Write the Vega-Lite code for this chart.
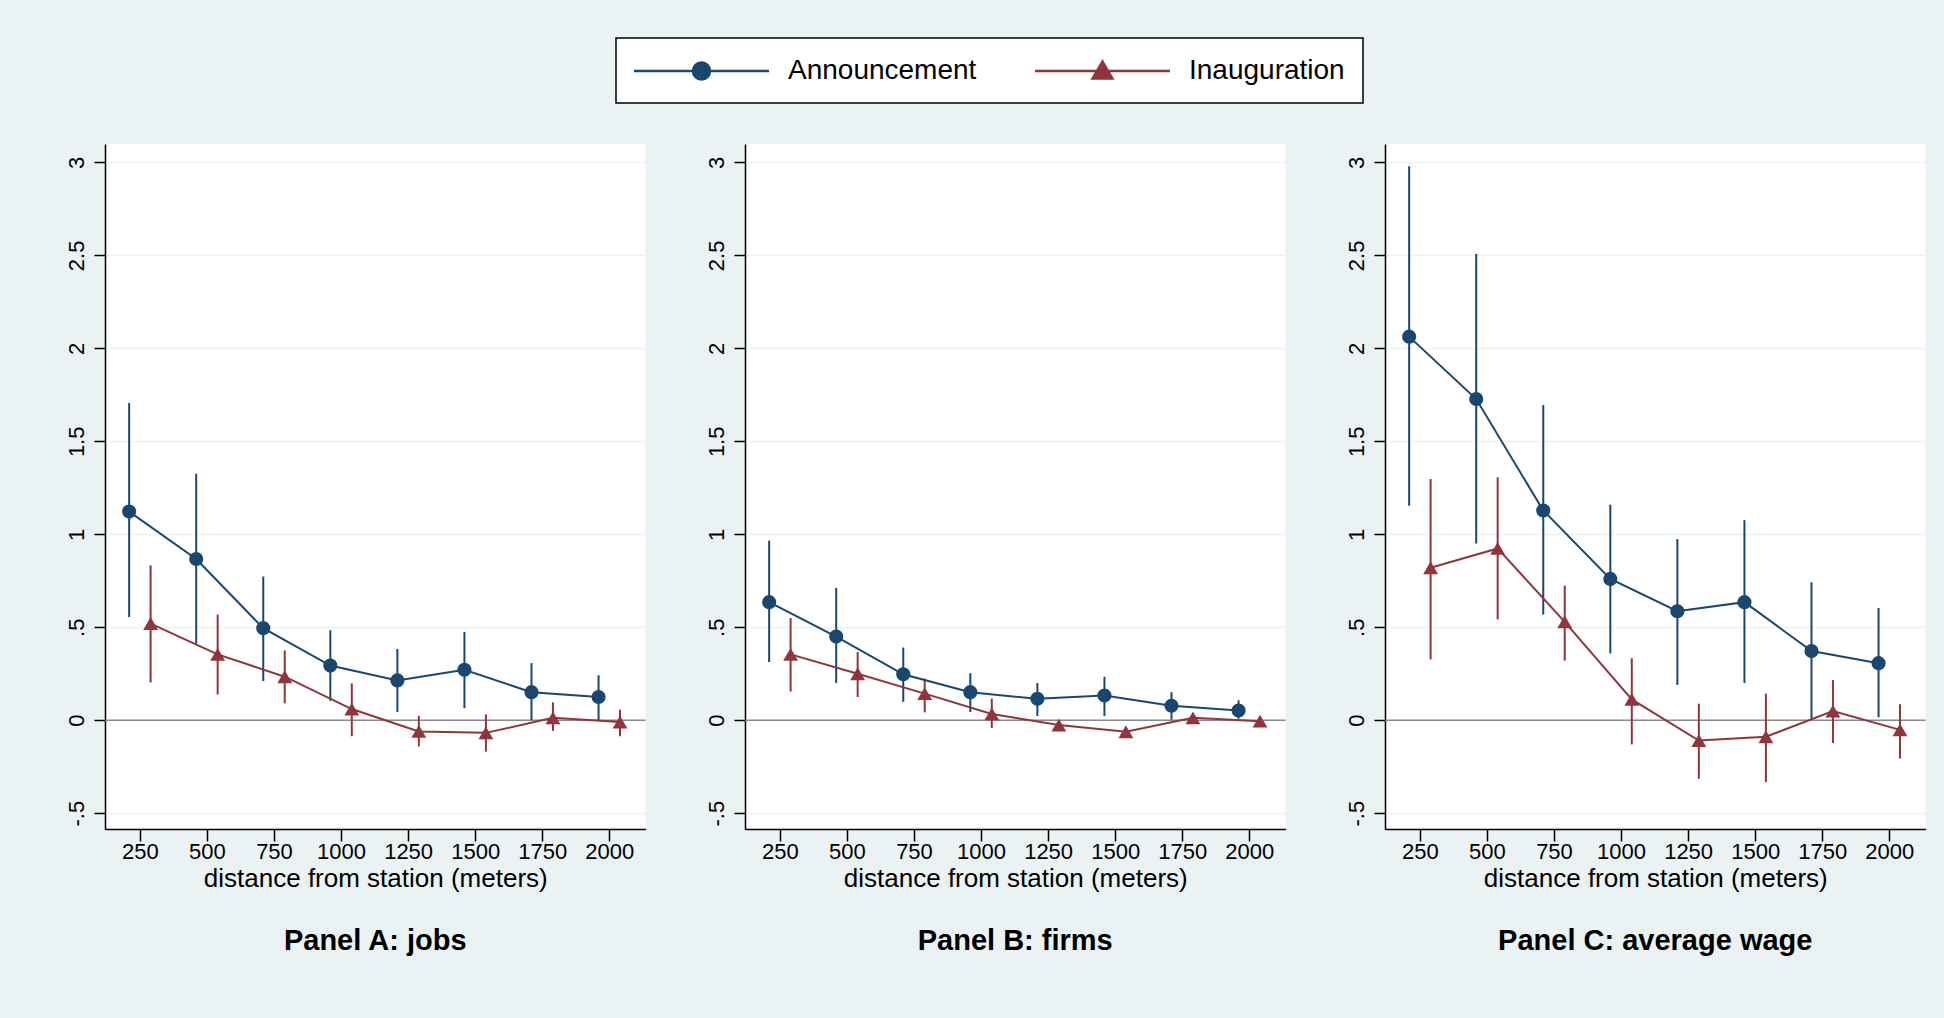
{
  "$schema": "https://vega.github.io/schema/vega-lite/v6.json",
  "background": "#EAF2F3",
  "padding": {"left": 65, "top": 37, "right": 19, "bottom": 62},
  "bounds": "flush",
  "spacing": 99,
  "datasets": {
    "zero": [{"y": 0}],
    "jobs": [
      {"series": "Announcement", "dist": 210, "est": 1.122, "lo": 0.555, "hi": 1.706},
      {"series": "Announcement", "dist": 460, "est": 0.867, "lo": 0.411, "hi": 1.326},
      {"series": "Announcement", "dist": 710, "est": 0.495, "lo": 0.211, "hi": 0.773},
      {"series": "Announcement", "dist": 960, "est": 0.294, "lo": 0.104, "hi": 0.484},
      {"series": "Announcement", "dist": 1210, "est": 0.214, "lo": 0.044, "hi": 0.383},
      {"series": "Announcement", "dist": 1460, "est": 0.271, "lo": 0.065, "hi": 0.474},
      {"series": "Announcement", "dist": 1710, "est": 0.151, "lo": 0.0, "hi": 0.307},
      {"series": "Announcement", "dist": 1960, "est": 0.125, "lo": 0.0, "hi": 0.242},
      {"series": "Inauguration", "dist": 290, "est": 0.52, "lo": 0.203, "hi": 0.833},
      {"series": "Inauguration", "dist": 540, "est": 0.354, "lo": 0.138, "hi": 0.568},
      {"series": "Inauguration", "dist": 790, "est": 0.234, "lo": 0.091, "hi": 0.375},
      {"series": "Inauguration", "dist": 1040, "est": 0.06, "lo": -0.086, "hi": 0.198},
      {"series": "Inauguration", "dist": 1290, "est": -0.06, "lo": -0.141, "hi": 0.023},
      {"series": "Inauguration", "dist": 1540, "est": -0.068, "lo": -0.169, "hi": 0.031},
      {"series": "Inauguration", "dist": 1790, "est": 0.013, "lo": -0.057, "hi": 0.096},
      {"series": "Inauguration", "dist": 2040, "est": -0.01, "lo": -0.086, "hi": 0.057}
    ],
    "firms": [
      {"series": "Announcement", "dist": 210, "est": 0.635, "lo": 0.313, "hi": 0.966},
      {"series": "Announcement", "dist": 460, "est": 0.45, "lo": 0.2, "hi": 0.711},
      {"series": "Announcement", "dist": 710, "est": 0.247, "lo": 0.099, "hi": 0.391},
      {"series": "Announcement", "dist": 960, "est": 0.151, "lo": 0.044, "hi": 0.253},
      {"series": "Announcement", "dist": 1210, "est": 0.115, "lo": 0.023, "hi": 0.2},
      {"series": "Announcement", "dist": 1460, "est": 0.133, "lo": 0.023, "hi": 0.234},
      {"series": "Announcement", "dist": 1710, "est": 0.078, "lo": 0.003, "hi": 0.151},
      {"series": "Announcement", "dist": 1960, "est": 0.052, "lo": 0.008, "hi": 0.107},
      {"series": "Inauguration", "dist": 290, "est": 0.354, "lo": 0.154, "hi": 0.55},
      {"series": "Inauguration", "dist": 540, "est": 0.25, "lo": 0.125, "hi": 0.367},
      {"series": "Inauguration", "dist": 790, "est": 0.143, "lo": 0.042, "hi": 0.224},
      {"series": "Inauguration", "dist": 1040, "est": 0.034, "lo": -0.042, "hi": 0.117},
      {"series": "Inauguration", "dist": 1290, "est": -0.026, "lo": -0.047, "hi": -0.005},
      {"series": "Inauguration", "dist": 1540, "est": -0.062, "lo": -0.094, "hi": -0.04},
      {"series": "Inauguration", "dist": 1790, "est": 0.013, "lo": -0.018, "hi": 0.039},
      {"series": "Inauguration", "dist": 2040, "est": -0.005, "lo": -0.026, "hi": 0.013}
    ],
    "wage": [
      {"series": "Announcement", "dist": 210, "est": 2.063, "lo": 1.154, "hi": 2.979},
      {"series": "Announcement", "dist": 460, "est": 1.727, "lo": 0.951, "hi": 2.508},
      {"series": "Announcement", "dist": 710, "est": 1.128, "lo": 0.568, "hi": 1.695},
      {"series": "Announcement", "dist": 960, "est": 0.76, "lo": 0.359, "hi": 1.159},
      {"series": "Announcement", "dist": 1210, "est": 0.586, "lo": 0.19, "hi": 0.974},
      {"series": "Announcement", "dist": 1460, "est": 0.635, "lo": 0.2, "hi": 1.076},
      {"series": "Announcement", "dist": 1710, "est": 0.372, "lo": 0.008, "hi": 0.742},
      {"series": "Announcement", "dist": 1960, "est": 0.307, "lo": 0.016, "hi": 0.604},
      {"series": "Inauguration", "dist": 290, "est": 0.82, "lo": 0.328, "hi": 1.297},
      {"series": "Inauguration", "dist": 540, "est": 0.924, "lo": 0.542, "hi": 1.307},
      {"series": "Inauguration", "dist": 790, "est": 0.529, "lo": 0.32, "hi": 0.724},
      {"series": "Inauguration", "dist": 1040, "est": 0.112, "lo": -0.13, "hi": 0.333},
      {"series": "Inauguration", "dist": 1290, "est": -0.109, "lo": -0.315, "hi": 0.089},
      {"series": "Inauguration", "dist": 1540, "est": -0.089, "lo": -0.333, "hi": 0.143},
      {"series": "Inauguration", "dist": 1790, "est": 0.049, "lo": -0.122, "hi": 0.216},
      {"series": "Inauguration", "dist": 2040, "est": -0.052, "lo": -0.206, "hi": 0.086}
    ]
  },
  "resolve": {"scale": {"color": "shared"}, "legend": {"color": "shared"}},
  "hconcat": [
    {
      "width": 540.5, "height": 685,
      "title": {"text": "Panel A: jobs", "orient": "bottom", "anchor": "middle", "fontSize": 29, "fontWeight": "bold", "color": "#000", "offset": 36},
      "data": {"name": "jobs"},
      "layer": [
        {"data": {"name": "zero"}, "mark": {"type": "rule", "color": "#8A8A8A", "strokeWidth": 1.5},
         "encoding": {"y": {"field": "y", "type": "quantitative", "scale": {"domain": [-0.585, 3.099], "nice": false, "zero": false}, "axis": {"values": [-0.5, 0, 0.5, 1, 1.5, 2, 2.5, 3], "labelExpr": "datum.value == 0.5 ? '.5' : datum.value == -0.5 ? '-.5' : format(datum.value, '~g')", "title": null}}}},
        {"mark": {"type": "rule", "strokeWidth": 2},
         "encoding": {"x": {"field": "dist", "type": "quantitative", "scale": {"domain": [120, 2135], "nice": false, "zero": false}, "axis": {"values": [250, 500, 750, 1000, 1250, 1500, 1750, 2000], "format": "d", "title": "distance from station (meters)"}},
                      "y": {"field": "lo", "type": "quantitative"}, "y2": {"field": "hi"},
                      "color": {"field": "series", "type": "nominal", "scale": {"domain": ["Announcement", "Inauguration"], "range": ["#1A476F", "#90353B"]}, "legend": {"title": null, "orient": "none", "legendX": 511, "legendY": -106, "direction": "horizontal", "encode": {"symbols": {"update": {"shape": {"signal": "datum.value === 'Announcement' ? 'M-1,0L1,0M-0.125,0A0.125,0.125,0,1,0,0.125,0A0.125,0.125,0,1,0,-0.125,0Z' : 'M-1,0L1,0M0,-0.14L0.145,0.11L-0.145,0.11Z'"}, "size": {"value": 18225}, "x": {"value": 67.5}, "y": {"value": 15}, "strokeWidth": {"value": 2.6}, "fill": {"scale": "color", "field": "value"}, "stroke": {"scale": "color", "field": "value"}, "opacity": {"value": 1}}}, "labels": {"update": {"y": {"value": 15}}}, "legend": {"update": {"strokeWidth": {"value": 1.5}}}}}}}},
        {"mark": {"type": "line", "strokeWidth": 2},
         "encoding": {"x": {"field": "dist", "type": "quantitative"}, "y": {"field": "est", "type": "quantitative"},
                      "color": {"field": "series", "type": "nominal"}}},
        {"transform": [{"filter": "datum.series == 'Announcement'"}],
         "mark": {"type": "point", "shape": "circle", "filled": true, "opacity": 1, "size": 200},
         "encoding": {"x": {"field": "dist", "type": "quantitative"}, "y": {"field": "est", "type": "quantitative"},
                      "color": {"field": "series", "type": "nominal"}}},
        {"transform": [{"filter": "datum.series == 'Inauguration'"}],
         "mark": {"type": "point", "shape": "triangle-up", "filled": true, "opacity": 1, "size": 220},
         "encoding": {"x": {"field": "dist", "type": "quantitative"}, "y": {"field": "est", "type": "quantitative"},
                      "color": {"field": "series", "type": "nominal"}}}
      ]
    },
    {
      "width": 540.5, "height": 685,
      "title": {"text": "Panel B: firms", "orient": "bottom", "anchor": "middle", "fontSize": 29, "fontWeight": "bold", "color": "#000", "offset": 36},
      "data": {"name": "firms"},
      "layer": [
        {"data": {"name": "zero"}, "mark": {"type": "rule", "color": "#8A8A8A", "strokeWidth": 1.5},
         "encoding": {"y": {"field": "y", "type": "quantitative", "scale": {"domain": [-0.585, 3.099], "nice": false, "zero": false}, "axis": {"values": [-0.5, 0, 0.5, 1, 1.5, 2, 2.5, 3], "labelExpr": "datum.value == 0.5 ? '.5' : datum.value == -0.5 ? '-.5' : format(datum.value, '~g')", "title": null}}}},
        {"mark": {"type": "rule", "strokeWidth": 2},
         "encoding": {"x": {"field": "dist", "type": "quantitative", "scale": {"domain": [120, 2135], "nice": false, "zero": false}, "axis": {"values": [250, 500, 750, 1000, 1250, 1500, 1750, 2000], "format": "d", "title": "distance from station (meters)"}},
                      "y": {"field": "lo", "type": "quantitative"}, "y2": {"field": "hi"},
                      "color": {"field": "series", "type": "nominal"}}},
        {"mark": {"type": "line", "strokeWidth": 2},
         "encoding": {"x": {"field": "dist", "type": "quantitative"}, "y": {"field": "est", "type": "quantitative"},
                      "color": {"field": "series", "type": "nominal"}}},
        {"transform": [{"filter": "datum.series == 'Announcement'"}],
         "mark": {"type": "point", "shape": "circle", "filled": true, "opacity": 1, "size": 200},
         "encoding": {"x": {"field": "dist", "type": "quantitative"}, "y": {"field": "est", "type": "quantitative"},
                      "color": {"field": "series", "type": "nominal"}}},
        {"transform": [{"filter": "datum.series == 'Inauguration'"}],
         "mark": {"type": "point", "shape": "triangle-up", "filled": true, "opacity": 1, "size": 220},
         "encoding": {"x": {"field": "dist", "type": "quantitative"}, "y": {"field": "est", "type": "quantitative"},
                      "color": {"field": "series", "type": "nominal"}}}
      ]
    },
    {
      "width": 540.5, "height": 685,
      "title": {"text": "Panel C: average wage", "orient": "bottom", "anchor": "middle", "fontSize": 29, "fontWeight": "bold", "color": "#000", "offset": 36},
      "data": {"name": "wage"},
      "layer": [
        {"data": {"name": "zero"}, "mark": {"type": "rule", "color": "#8A8A8A", "strokeWidth": 1.5},
         "encoding": {"y": {"field": "y", "type": "quantitative", "scale": {"domain": [-0.585, 3.099], "nice": false, "zero": false}, "axis": {"values": [-0.5, 0, 0.5, 1, 1.5, 2, 2.5, 3], "labelExpr": "datum.value == 0.5 ? '.5' : datum.value == -0.5 ? '-.5' : format(datum.value, '~g')", "title": null}}}},
        {"mark": {"type": "rule", "strokeWidth": 2},
         "encoding": {"x": {"field": "dist", "type": "quantitative", "scale": {"domain": [120, 2135], "nice": false, "zero": false}, "axis": {"values": [250, 500, 750, 1000, 1250, 1500, 1750, 2000], "format": "d", "title": "distance from station (meters)"}},
                      "y": {"field": "lo", "type": "quantitative"}, "y2": {"field": "hi"},
                      "color": {"field": "series", "type": "nominal"}}},
        {"mark": {"type": "line", "strokeWidth": 2},
         "encoding": {"x": {"field": "dist", "type": "quantitative"}, "y": {"field": "est", "type": "quantitative"},
                      "color": {"field": "series", "type": "nominal"}}},
        {"transform": [{"filter": "datum.series == 'Announcement'"}],
         "mark": {"type": "point", "shape": "circle", "filled": true, "opacity": 1, "size": 200},
         "encoding": {"x": {"field": "dist", "type": "quantitative"}, "y": {"field": "est", "type": "quantitative"},
                      "color": {"field": "series", "type": "nominal"}}},
        {"transform": [{"filter": "datum.series == 'Inauguration'"}],
         "mark": {"type": "point", "shape": "triangle-up", "filled": true, "opacity": 1, "size": 220},
         "encoding": {"x": {"field": "dist", "type": "quantitative"}, "y": {"field": "est", "type": "quantitative"},
                      "color": {"field": "series", "type": "nominal"}}}
      ]
    }
  ],
  "config": {
    "font": "Liberation Sans",
    "view": {"stroke": null, "fill": "white"},
    "axisX": {"grid": false, "domainColor": "#000", "domainWidth": 1.5, "tickColor": "#000", "tickWidth": 1.5, "tickSize": 12, "labelFontSize": 22, "labelColor": "#000", "labelPadding": 0, "labelFlush": false, "labelOverlap": false, "titleFontSize": 26, "titleFontWeight": "normal", "titleColor": "#000", "titlePadding": 3},
    "axisY": {"grid": true, "gridColor": "#EAF2F3", "gridWidth": 1.5, "domainColor": "#000", "domainWidth": 1.5, "tickColor": "#000", "tickWidth": 1.5, "tickSize": 11, "labelFontSize": 22, "labelColor": "#000", "labelAngle": 270, "labelAlign": "center", "labelBaseline": "bottom", "labelPadding": 6, "labelOverlap": false},
    "legend": {"symbolSize": 400, "labelFontSize": 28, "labelColor": "#000", "labelOffset": 16, "columnPadding": 52, "padding": 18, "strokeColor": "#000", "fillColor": "#fff", "labelLimit": 400}
  }
}
